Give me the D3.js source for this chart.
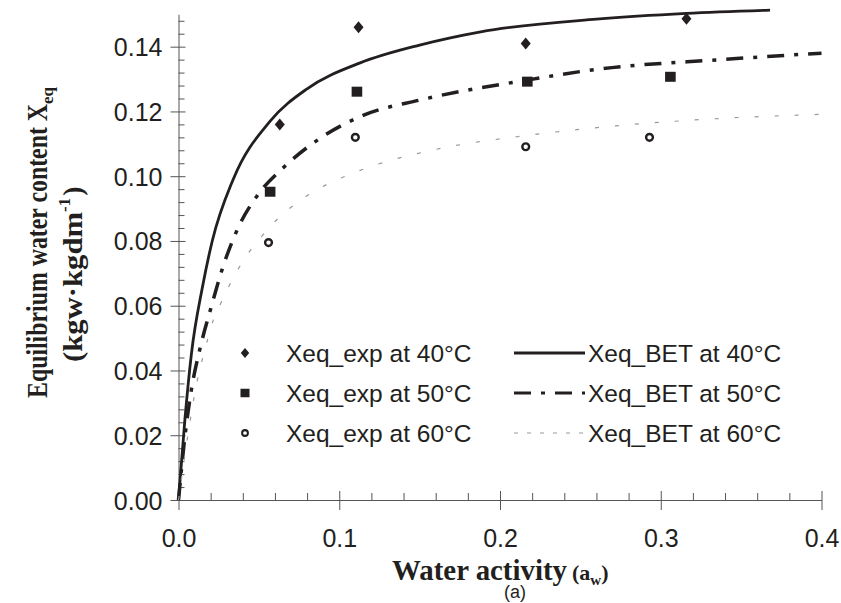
<!DOCTYPE html>
<html>
<head>
<meta charset="utf-8">
<script src="https://cdn.jsdelivr.net/npm/d3@7"></script>
<style>
  body { margin: 0; background: #fff; }
  svg { display: block; }
  .tick text { font-family: "Liberation Sans", Arial, sans-serif; font-size: 25px; fill: #231f20; }
  .axis path, .axis line { stroke: #555; stroke-width: 1; }
  .leg { font-family: "Liberation Sans", Arial, sans-serif; font-size: 24.5px; fill: #231f20; }
  .title { font-family: "Liberation Serif", "Times New Roman", serif; font-weight: bold; fill: #231f20; }
</style>
</head>
<body>
<svg width="841" height="603"></svg>
<script>
// experimental points (water activity, Xeq)
var aw40 = [0.063, 0.112, 0.216, 0.316];
var xeq40 = [0.116, 0.146, 0.141, 0.1486];
var aw50 = [0.057, 0.111, 0.217, 0.306];
var xeq50 = [0.0952, 0.1261, 0.1292, 0.1307];
var aw60 = [0.056, 0.110, 0.216, 0.293];
var xeq60 = [0.0795, 0.112, 0.1091, 0.112];

// BET curves
var bet40A = [0, 0.004, 0.008, 0.015, 0.021, 0.034, 0.057, 0.08, 0.113, 0.15, 0.188, 0.26, 0.316, 0.368];
var bet40X = [0, 0.025, 0.045, 0.066, 0.080, 0.099, 0.117, 0.127, 0.135, 0.1405, 0.1446, 0.1485, 0.1503, 0.1513];
var bet50A = [0, 0.004, 0.008, 0.013, 0.020, 0.027, 0.038, 0.049, 0.066, 0.086, 0.116, 0.15, 0.217, 0.26, 0.337, 0.4];
var bet50X = [0, 0.0196, 0.034, 0.046, 0.059, 0.071, 0.085, 0.094, 0.103, 0.111, 0.119, 0.1235, 0.1297, 0.133, 0.136, 0.138];
var bet60A = [0, 0.006, 0.0113, 0.0175, 0.0206, 0.0258, 0.0362, 0.0434, 0.0507, 0.059, 0.0777, 0.111, 0.121, 0.1585, 0.2187, 0.256, 0.3286, 0.4];
var bet60X = [0, 0.0206, 0.036, 0.0484, 0.054, 0.0602, 0.0705, 0.0762, 0.0808, 0.0855, 0.0932, 0.1014, 0.1032, 0.1081, 0.1127, 0.1148, 0.1176, 0.1191];

var xTicks = [0, 0.1, 0.2, 0.3, 0.4];
var yTicks = [0, 0.02, 0.04, 0.06, 0.08, 0.10, 0.12, 0.14];
var expLabels = ["Xeq_exp at 40°C", "Xeq_exp at 50°C", "Xeq_exp at 60°C"];
var betLabels = ["Xeq_BET at 40°C", "Xeq_BET at 50°C", "Xeq_BET at 60°C"];

var ink = "#231f20";
var svg = d3.select("svg");
var x = d3.scaleLinear().domain([0, 0.4]).range([178.5, 821.5]);
var y = d3.scaleLinear().domain([0, 0.15]).range([500, 14.3]);

function zip(a, b) { return a.map(function(d, i) { return [d, b[i]]; }); }

// minor ticks first
var xMinor = d3.range(0.02, 0.4, 0.02).filter(function(v) { return Math.abs(v * 10 - Math.round(v * 10)) > 1e-6; });
svg.append("g").attr("class", "axis").attr("transform", "translate(0,500)")
	.call(d3.axisBottom(x).tickValues(xMinor).tickSize(-7).tickSizeOuter(0).tickFormat(""))
	.select(".domain").remove();
var yMinor = d3.range(0.004, 0.1505, 0.004).filter(function(v) { return Math.abs(v * 50 - Math.round(v * 50)) > 1e-6; });
svg.append("g").attr("class", "axis").attr("transform", "translate(178.5,0)")
	.call(d3.axisLeft(y).tickValues(yMinor).tickSize(-6).tickSizeOuter(0).tickFormat(""))
	.select(".domain").remove();

var gx = svg.append("g").attr("class", "axis").attr("transform", "translate(0,500)")
	.call(d3.axisBottom(x).tickValues(xTicks).tickSize(10).tickSizeOuter(0).tickPadding(19).tickFormat(d3.format(".1f")));
gx.selectAll(".tick line").attr("y1", -9);
var gy = svg.append("g").attr("class", "axis").attr("transform", "translate(178.5,0)")
	.call(d3.axisLeft(y).tickValues(yTicks).tickSize(8).tickSizeOuter(0).tickPadding(8).tickFormat(d3.format(".2f")));
gy.selectAll(".tick line").attr("x1", 7);
gy.selectAll(".tick text").attr("dy", "0.36em");

// curves
var line = d3.line().x(function(d) { return x(d[0]); }).y(function(d) { return y(d[1]); }).curve(d3.curveMonotoneX);
var styles = [
	{ w: 2.8, c: ink, dash: null, legDash: null },
	{ w: 3.5, c: ink, dash: "17,10,4,10", legDash: "17,10,4,10" },
	{ w: 1.2, c: "#999", dash: "4,16", legDash: "4,9" }
];
var curves = [zip(bet40A, bet40X), zip(bet50A, bet50X), zip(bet60A, bet60X)];
curves.forEach(function(pts, i) {
	svg.append("path").datum(pts).attr("d", line)
		.attr("fill", "none").attr("stroke", styles[i].c).attr("stroke-width", styles[i].w)
		.attr("stroke-dasharray", styles[i].dash);
});

// markers
var diamond = "M0,-6L5,0L0,6L-5,0Z";
function drawMarker(g, k) {
	if (k == 0) g.append("path").attr("d", diamond).attr("fill", ink);
	else if (k == 1) g.append("rect").attr("x", -5.3).attr("y", -5).attr("width", 10.6).attr("height", 10).attr("fill", ink);
	else g.append("circle").attr("r", 3.4).attr("fill", "#fff").attr("stroke", ink).attr("stroke-width", 2.4);
}
[zip(aw40, xeq40), zip(aw50, xeq50), zip(aw60, xeq60)].forEach(function(pts, k) {
	svg.append("g").selectAll("g").data(pts).enter().append("g")
		.attr("transform", function(d) { return "translate(" + x(d[0]) + "," + y(d[1]) + ")"; })
		.each(function() { drawMarker(d3.select(this), k); });
});

// legend
var rows = [353, 393, 433];
rows.forEach(function(ry, i) {
	drawMarker(svg.append("g").attr("transform", "translate(245," + ry + ") scale(0.85)"), i);
	svg.append("text").attr("class", "leg").attr("x", 286).attr("y", ry + 8.5).text(expLabels[i]);
	svg.append("line").attr("x1", 514).attr("x2", 585).attr("y1", ry).attr("y2", ry)
		.attr("stroke", styles[i].c).attr("stroke-width", i == 2 ? 1.2 : 2.8)
		.attr("stroke-dasharray", styles[i].legDash);
	svg.append("text").attr("class", "leg").attr("x", 588).attr("y", ry + 8.5).text(betLabels[i]);
});

// axis titles
var xt = svg.append("text").attr("class", "title").attr("x", 392).attr("y", 580);
xt.append("tspan").style("font-size", "30px").attr("textLength", 175).attr("lengthAdjust", "spacingAndGlyphs").text("Water activity");
xt.append("tspan").style("font-size", "22px").attr("dx", 5).text("(a");
xt.append("tspan").style("font-size", "15px").attr("dy", 5).text("w");
xt.append("tspan").style("font-size", "22px").attr("dy", -5).text(")");
svg.append("text").attr("x", 515).attr("y", 598).attr("text-anchor", "middle")
	.style("font-family", "Liberation Sans, Arial, sans-serif").style("font-size", "18px").attr("fill", ink).text("(a)");

var yt1 = svg.append("text").attr("class", "title").attr("transform", "translate(47,398) rotate(-90)");
yt1.append("tspan").style("font-size", "29px").attr("textLength", 294).attr("lengthAdjust", "spacingAndGlyphs")
	.text("Equilibrium water content X");
yt1.append("tspan").style("font-size", "17px").attr("dy", 6).text("eq");
var yt2 = svg.append("text").attr("class", "title").attr("transform", "translate(82,362) rotate(-90)");
yt2.append("tspan").style("font-size", "28px").attr("textLength", 150).attr("lengthAdjust", "spacingAndGlyphs").text("(kgw·kgdm");
yt2.append("tspan").style("font-size", "17px").attr("dy", -12).text("-1");
yt2.append("tspan").style("font-size", "28px").attr("dy", 12).attr("dx", 2).text(")");
</script>
</body>
</html>
